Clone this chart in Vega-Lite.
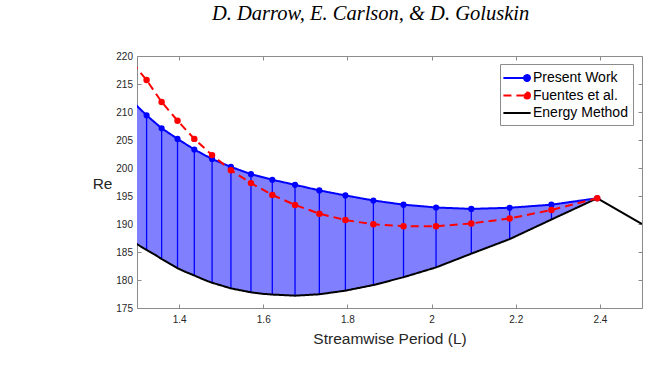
{
  "$schema": "https://vega.github.io/schema/vega-lite/v6.json",
  "width": 505,
  "height": 252,
  "autosize": {"type": "none"},
  "padding": {"left": 137, "top": 56, "right": 7, "bottom": 59},
  "background": "white",
  "title": {
    "text": "D. Darrow, E. Carlson, & D. Goluskin",
    "anchor": "start",
    "frame": "group",
    "dx": 75,
    "font": "Liberation Serif",
    "fontStyle": "italic",
    "fontWeight": "normal",
    "fontSize": 20.5,
    "color": "#000000",
    "baseline": "alphabetic",
    "offset": 10.5
  },
  "config": {
    "view": {"stroke": "#8c8c8c", "strokeWidth": 1},
    "axis": {
      "domain": false,
      "grid": false,
      "tickColor": "#8c8c8c",
      "tickSize": -4,
      "labelFont": "Liberation Sans",
      "labelFontSize": 10,
      "labelColor": "#262626",
      "titleFont": "Liberation Sans",
      "titleFontSize": 15.5,
      "titleFontWeight": "normal",
      "titleColor": "#262626"
    }
  },
  "datasets": {
    "d": [
      {"L": 1.2889, "pw": 211.9, "fu": 218.8, "em": 186.9},
      {"L": 1.3228, "pw": 209.4, "fu": 215.7, "em": 185.36},
      {"L": 1.3408, "pw": null, "fu": null, "em": 184.6},
      {"L": 1.3585, "pw": 207.1, "fu": 211.8, "em": 183.75},
      {"L": 1.378, "pw": null, "fu": null, "em": 182.9},
      {"L": 1.3963, "pw": 205.2, "fu": 208.45, "em": 182.1},
      {"L": 1.4167, "pw": null, "fu": null, "em": 181.4},
      {"L": 1.4362, "pw": 203.3, "fu": 205.2, "em": 180.8},
      {"L": 1.4578, "pw": null, "fu": null, "em": 180.1},
      {"L": 1.4784, "pw": 201.6, "fu": 202.3, "em": 179.5},
      {"L": 1.5014, "pw": null, "fu": null, "em": 179.0},
      {"L": 1.5232, "pw": 200.2, "fu": 199.6, "em": 178.5},
      {"L": 1.5472, "pw": null, "fu": null, "em": 178.15},
      {"L": 1.5708, "pw": 198.9, "fu": 197.3, "em": 177.8},
      {"L": 1.5962, "pw": null, "fu": null, "em": 177.55},
      {"L": 1.6215, "pw": 197.9, "fu": 195.2, "em": 177.4},
      {"L": 1.6755, "pw": 197.0, "fu": 193.4, "em": 177.2},
      {"L": 1.7333, "pw": 196.0, "fu": 191.85, "em": 177.45},
      {"L": 1.7952, "pw": 195.1, "fu": 190.7, "em": 178.1},
      {"L": 1.8617, "pw": 194.2, "fu": 189.95, "em": 179.1},
      {"L": 1.9333, "pw": 193.45, "fu": 189.6, "em": 180.5},
      {"L": 2.0106, "pw": 192.95, "fu": 189.6, "em": 182.25},
      {"L": 2.0944, "pw": 192.7, "fu": 190.1, "em": 184.7},
      {"L": 2.1855, "pw": 192.9, "fu": 191.0, "em": 187.3},
      {"L": 2.2848, "pw": 193.45, "fu": 192.5, "em": 190.8},
      {"L": 2.3936, "pw": 194.6, "fu": 194.6, "em": 194.6},
      {"L": 2.5, "pw": null, "fu": null, "em": 190.0}
    ]
  },
  "data": {"name": "d"},
  "layer": [
    {
      "transform": [{"filter": "isValid(datum.pw)"}],
      "mark": {"type": "area", "color": "#8080ff", "opacity": 1, "clip": true},
      "encoding": {
        "x": {
          "field": "L", "type": "quantitative",
          "scale": {"domain": [1.3, 2.5], "nice": false, "zero": false},
          "axis": {
            "orient": "bottom",
            "values": [1.4, 1.6, 1.8, 2, 2.2, 2.4],
            "format": "~g",
            "labelPadding": 10,
            "title": "Streamwise Period (L)",
            "titleX": 252.5,
            "titleY": 35,
            "titleAlign": "center",
            "titleBaseline": "alphabetic"
          }
        },
        "y": {
          "field": "pw", "type": "quantitative",
          "scale": {"domain": [175, 220], "nice": false, "zero": false},
          "axis": {
            "orient": "left",
            "values": [175, 180, 185, 190, 195, 200, 205, 210, 215, 220],
            "format": "d",
            "labelPadding": 8.5,
            "title": "Re",
            "titleAngle": 0,
            "titleAlign": "right",
            "titleBaseline": "alphabetic",
            "titleX": -25,
            "titleY": 132.5
          }
        },
        "y2": {"field": "em"}
      }
    },
    {
      "transform": [{"filter": "isValid(datum.pw)"}],
      "mark": {"type": "rule", "color": "#0000ff", "strokeWidth": 1.3, "clip": true},
      "encoding": {
        "x": {
          "field": "L", "type": "quantitative",
          "axis": {"orient": "top", "values": [1.4, 1.6, 1.8, 2, 2.2, 2.4], "labels": false, "title": null}
        },
        "y": {
          "field": "pw", "type": "quantitative",
          "axis": {"orient": "right", "values": [175, 180, 185, 190, 195, 200, 205, 210, 215, 220], "labels": false, "title": null}
        },
        "y2": {"field": "em"}
      }
    },
    {
      "transform": [
        {"fold": ["em", "pw", "fu"], "as": ["series", "Re"]},
        {"filter": "isValid(datum.Re)"}
      ],
      "mark": {"type": "line", "strokeWidth": 2, "clip": true},
      "encoding": {
        "x": {"field": "L", "type": "quantitative", "axis": null},
        "y": {"field": "Re", "type": "quantitative", "axis": null},
        "color": {
          "field": "series", "type": "nominal",
          "scale": {"domain": ["pw", "fu", "em"], "range": ["#0000ff", "#ff0000", "#000000"]},
          "legend": {
            "title": null,
            "orient": "none",
            "legendX": 363,
            "legendY": 8,
            "labelExpr": "datum.value == 'pw' ? 'Present Work' : datum.value == 'fu' ? 'Fuentes et al.' : 'Energy Method'",
            "labelFont": "Liberation Sans",
            "labelFontSize": 14,
            "labelColor": "#000000",
            "labelOffset": 7,
            "symbolOffset": 3,
            "symbolSize": 256,
            "symbolStrokeWidth": 2,
            "strokeColor": "#8c8c8c",
            "fillColor": "#ffffff",
            "padding": 5,
            "rowPadding": 1.5,
            "encode": {
              "symbols": {
                "update": {
                  "shape": {"signal": "datum.value == 'em' ? 'M-1.7,0H1.7' : 'M-1.7,0H1.25M1.62,0A0.37,0.37,0,1,1,0.88,0A0.37,0.37,0,1,1,1.62,0Z'"},
                  "fill": {"signal": "datum.value == 'pw' ? '#0000ff' : datum.value == 'fu' ? '#ff0000' : 'transparent'"}
                }
              }
            }
          }
        },
        "strokeDash": {
          "field": "series", "type": "nominal",
          "scale": {"domain": ["pw", "fu", "em"], "range": [[1, 0], [8, 5], [1, 0]]}
        }
      }
    },
    {
      "mark": {"type": "point", "filled": true, "color": "#0000ff", "size": 38, "opacity": 1, "clip": true},
      "encoding": {
        "x": {"field": "L", "type": "quantitative", "axis": null},
        "y": {"field": "pw", "type": "quantitative", "axis": null}
      }
    },
    {
      "mark": {"type": "point", "filled": true, "color": "#ff0000", "size": 42, "opacity": 1, "clip": true},
      "encoding": {
        "x": {"field": "L", "type": "quantitative", "axis": null},
        "y": {"field": "fu", "type": "quantitative", "axis": null}
      }
    }
  ],
  "resolve": {"axis": {"x": "independent", "y": "independent"}}
}
